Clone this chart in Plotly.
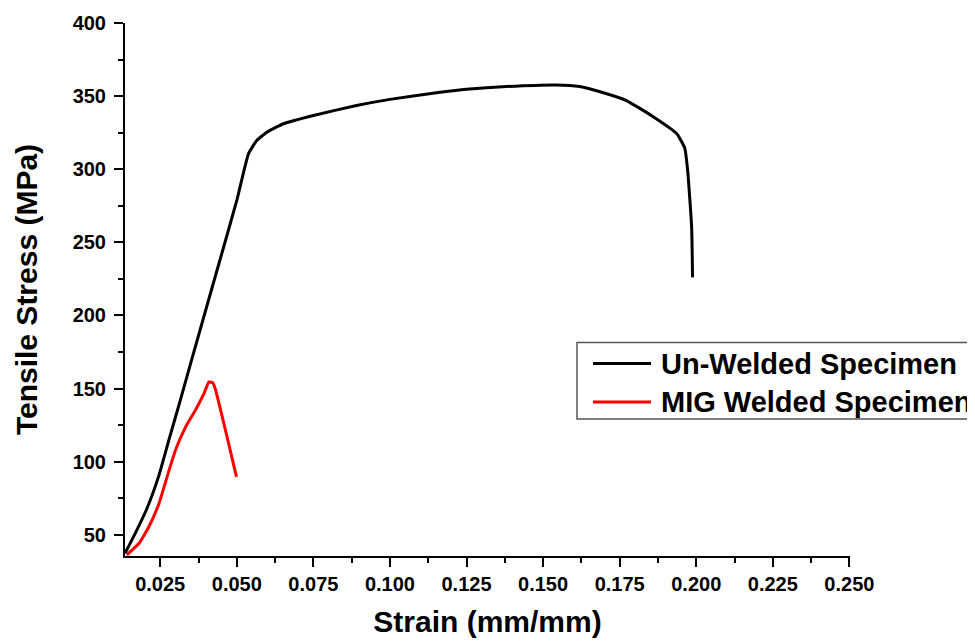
import plotly.graph_objects as go

# Un-welded specimen (strain, stress)
unwelded_strain = [0.0135, 0.0170, 0.0206, 0.0245, 0.0280, 0.0315, 0.0353, 0.0445, 0.0500,
                   0.0538, 0.0565, 0.0598, 0.0652, 0.0750, 0.0891, 0.1000, 0.1164, 0.1250,
                   0.1380, 0.1543, 0.1619, 0.1694, 0.1772, 0.1857, 0.1936, 0.1962, 0.1972,
                   0.1985, 0.1988]
unwelded_stress = [37.1, 51.5, 67.5, 90.0, 116.0, 141.5, 170.0, 238.0, 278.8,
                   310.7, 319.8, 325.5, 331.3, 337.0, 343.8, 348.0, 352.9, 355.0,
                   356.8, 357.9, 356.8, 352.7, 347.2, 336.5, 324.6, 315.0, 299.3,
                   260.3, 226.1]

# MIG welded specimen
mig_strain = [0.0141, 0.0181, 0.0213, 0.0246, 0.0279, 0.0300, 0.0333, 0.0365, 0.0393,
              0.0409, 0.0422, 0.0431, 0.0463, 0.0499]
mig_stress = [36.0, 44.0, 55.3, 71.3, 94.1, 107.9, 123.7, 135.2, 146.6,
              154.5, 153.8, 148.8, 121.5, 89.5]

series_names = ["Un-Welded Specimen", "MIG Welded Specimen"]
series_colors = ["black", "red"]

x_ticks = [0.025, 0.050, 0.075, 0.100, 0.125, 0.150, 0.175, 0.200, 0.225, 0.250]
y_ticks = [50, 100, 150, 200, 250, 300, 350, 400]

FONT = "Liberation Sans, Arial, sans-serif"

fig = go.Figure()
fig.add_trace(go.Scatter(x=unwelded_strain, y=unwelded_stress, mode="lines",
                         name=series_names[0], showlegend=False,
                         line=dict(color=series_colors[0], width=3, shape="spline", smoothing=0.4)))
fig.add_trace(go.Scatter(x=mig_strain, y=mig_stress, mode="lines",
                         name=series_names[1], showlegend=False,
                         line=dict(color=series_colors[1], width=3, shape="spline", smoothing=0.4)))

axis_common = dict(showline=True, linecolor="black", linewidth=2, showgrid=False,
                   zeroline=False, ticks="outside", ticklen=9, tickwidth=2,
                   tickcolor="black", mirror=False, automargin=False,
                   tickfont=dict(family=FONT, size=20, color="black"))

fig.update_xaxes(range=[0.0135, 0.2502], tickvals=x_ticks,
                 ticktext=[f"<b>{v:.3f}</b>" for v in x_ticks],
                 ticklabelstandoff=0,
                 minor=dict(dtick=0.0125, tick0=0.0125, ticks="outside", ticklen=5,
                            tickwidth=2, tickcolor="black"),
                 title=dict(text="<b>Strain (mm/mm)</b>", font=dict(family=FONT, size=30, color="black"),
                            standoff=17),
                 **axis_common)
fig.update_yaxes(range=[35.3, 400.3], tickvals=y_ticks,
                 ticktext=[f"<b>{v}</b>" for v in y_ticks],
                 ticklabelstandoff=4,
                 minor=dict(dtick=25, tick0=25, ticks="outside", ticklen=5,
                            tickwidth=2, tickcolor="black"),
                 title=dict(text="<b>Tensile Stress (MPa)</b>", font=dict(family=FONT, size=30, color="black"),
                            standoff=26),
                 **axis_common)

# Plot area sits at page pixels x 125..850, y 22.8..556 (page has an 8px body margin)
def px_x(px):
    return (px - 125) / 725.0

def px_y(py):
    return (556 - py) / 533.2

shapes = [dict(type="rect", xref="paper", yref="paper",
               x0=px_x(577), x1=px_x(1000), y0=px_y(419), y1=px_y(342.5),
               line=dict(color="#555555", width=1.5), fillcolor="white", layer="above")]
annotations = []
for i, (nm, col) in enumerate(zip(series_names, series_colors)):
    yy = px_y(363.5 + i * 38.5)
    shapes.append(dict(type="line", xref="paper", yref="paper",
                       x0=px_x(593), x1=px_x(651), y0=yy, y1=yy,
                       line=dict(color=col, width=3), layer="above"))
    annotations.append(dict(xref="paper", yref="paper", x=px_x(659), y=yy,
                            xanchor="left", yanchor="middle", showarrow=False,
                            text=f"<b>{nm}</b>",
                            font=dict(family=FONT, size=29, color="black")))

fig.update_layout(
    width=967, height=634,
    margin=dict(l=117, r=125, t=15, b=86),
    plot_bgcolor="white", paper_bgcolor="white",
    showlegend=False,
    shapes=shapes, annotations=annotations,
)

fig.write_html("out.html")
